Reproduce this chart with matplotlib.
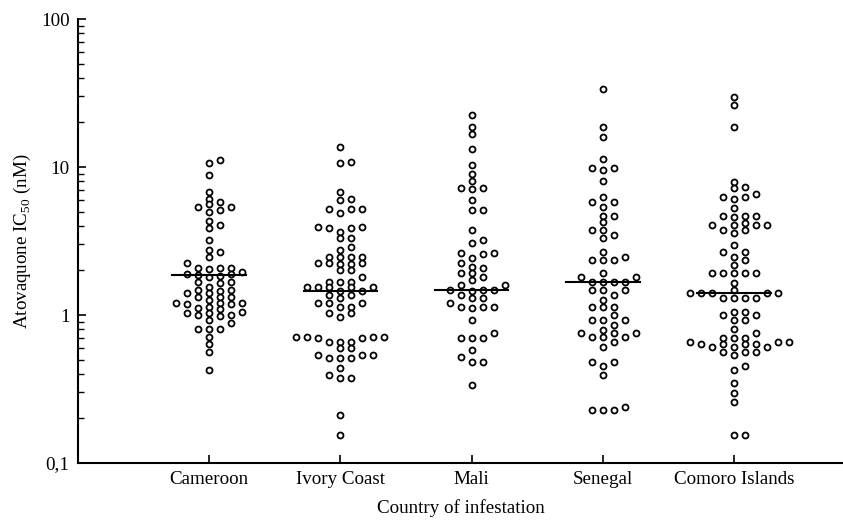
import numpy as np
import matplotlib
matplotlib.use("Agg")
from matplotlib import pyplot as plt

countries = ["Cameroon", "Ivory Coast", "Mali", "Senegal", "Comoro Islands"]

cameroon = [11.1, 10.6, 8.8, 6.8, 6.1, 5.8, 5.6, 5.4, 5.4, 5.1, 5.0, 4.3, 4.05, 3.9, 3.2,
            2.75, 2.67, 2.47, 2.23, 2.08, 2.07, 2.07, 2.05, 1.95, 1.9, 1.88, 1.85, 1.83,
            1.82, 1.66, 1.66, 1.64, 1.55, 1.47, 1.47, 1.46, 1.4, 1.4, 1.33, 1.33, 1.32,
            1.26, 1.2, 1.2, 1.2, 1.19, 1.19, 1.14, 1.11, 1.1, 1.05, 1.03, 1.03, 1.0, 1.0,
            0.99, 0.925, 0.88, 0.81, 0.81, 0.81, 0.71, 0.64, 0.565, 0.425]
ivory_coast = [13.7, 10.8, 10.6, 6.8, 6.1, 6.0, 5.2, 5.2, 5.2, 4.9, 3.94, 3.94, 3.9, 3.9,
               3.65, 3.3, 3.3, 2.89, 2.75, 2.47, 2.47, 2.47, 2.45, 2.23, 2.23, 2.23, 2.22,
               2.2, 2.01, 2.0, 1.81, 1.68, 1.68, 1.67, 1.55, 1.55, 1.55, 1.54, 1.54, 1.46,
               1.46, 1.36, 1.36, 1.3, 1.2, 1.2, 1.2, 1.14, 1.14, 1.03, 1.03, 0.97, 0.71,
               0.71, 0.71, 0.71, 0.7, 0.7, 0.66, 0.66, 0.66, 0.6, 0.6, 0.537, 0.537, 0.537,
               0.51, 0.51, 0.51, 0.437, 0.394, 0.374, 0.374, 0.211, 0.155]
mali = [22.4, 18.7, 16.8, 13.3, 10.3, 9.0, 8.1, 7.2, 7.2, 7.1, 5.97, 5.1, 5.1, 3.75, 3.2,
        3.05, 2.61, 2.61, 2.6, 2.41, 2.23, 2.12, 2.07, 1.91, 1.91, 1.81, 1.72, 1.59, 1.59,
        1.47, 1.47, 1.47, 1.46, 1.36, 1.3, 1.3, 1.2, 1.14, 1.14, 1.14, 1.11, 0.925, 0.75,
        0.7, 0.7, 0.7, 0.58, 0.52, 0.48, 0.48, 0.337]
senegal = [33.8, 18.7, 16.0, 11.4, 9.8, 9.8, 9.5, 8.1, 6.3, 5.8, 5.8, 5.4, 4.7, 4.7, 4.26,
           3.75, 3.75, 3.47, 3.3, 2.67, 2.47, 2.35, 2.35, 2.35, 1.91, 1.81, 1.81, 1.68,
           1.68, 1.68, 1.68, 1.47, 1.47, 1.47, 1.36, 1.26, 1.14, 1.14, 1.14, 1.0, 0.925,
           0.925, 0.925, 0.856, 0.79, 0.75, 0.75, 0.75, 0.71, 0.71, 0.71, 0.66, 0.61,
           0.48, 0.48, 0.45, 0.394, 0.24, 0.228, 0.228, 0.228]
comoro = [29.7, 26.1, 18.7, 7.9, 7.3, 7.2, 6.6, 6.3, 6.3, 6.1, 5.25, 4.7, 4.7, 4.7, 4.6,
          4.16, 4.05, 4.05, 4.05, 4.05, 3.75, 3.75, 3.56, 2.97, 2.67, 2.67, 2.47, 2.35,
          2.17, 1.91, 1.91, 1.91, 1.91, 1.91, 1.64, 1.47, 1.4, 1.4, 1.4, 1.4, 1.4, 1.3,
          1.3, 1.3, 1.3, 1.05, 1.05, 1.0, 1.0, 0.925, 0.925, 0.81, 0.75, 0.7, 0.7, 0.7,
          0.66, 0.66, 0.66, 0.64, 0.64, 0.64, 0.64, 0.61, 0.61, 0.61, 0.565, 0.565,
          0.565, 0.537, 0.45, 0.425, 0.345, 0.296, 0.26, 0.155, 0.155]

medians = [1.86, 1.46, 1.47, 1.68, 1.4]

groups = [cameroon, ivory_coast, mali, senegal, comoro]

# pixel scales of the axes (used only to spread overlapping points sideways)
PX_PER_X = 131.3
PX_PER_DECADE = 148.2


def swarm_offsets(values, step=11.0, min_dy=5.5):
    ys = np.log10(values) * PX_PER_DECADE
    order = np.argsort(ys)
    placed = []
    offsets = np.zeros(len(values))
    for i in order:
        y = ys[i]
        k = 0
        while True:
            cands = [0.0] if k == 0 else [k * step, -k * step]
            ok = None
            for c in cands:
                if all(abs(c - px) >= step - 1 or abs(y - py) >= min_dy for px, py in placed):
                    ok = c
                    break
            if ok is not None:
                break
            k += 1
        placed.append((ok, y))
        offsets[i] = ok / PX_PER_X
    return offsets


plt.rcParams['font.family'] = ['Liberation Serif', 'DejaVu Serif']
plt.rcParams['mathtext.fontset'] = 'custom'
plt.rcParams['mathtext.rm'] = 'Liberation Serif'

fig = plt.figure(figsize=(8.43, 5.2), dpi=100)
ax = fig.add_axes([78 / 843, 57 / 520, 1 - 78 / 843, 444 / 520])

for i, vals in enumerate(groups):
    xpos = i + 1
    offs = swarm_offsets(vals)
    ax.plot(xpos + offs, vals, linestyle='none', marker='o', markersize=4.3,
            markerfacecolor='white', markeredgecolor='black', markeredgewidth=1.3)
    ax.plot([xpos - 0.28, xpos + 0.28], [medians[i], medians[i]], color='black', lw=1.5)

ax.set_yscale('log')
ax.set_ylim(0.1, 100)
ax.set_xlim(0, 5.83)
ax.set_yticks([0.1, 1, 10, 100])
ax.set_yticklabels(["0,1", "1", "10", "100"])
ax.set_xticks(range(1, 6))
ax.set_xticklabels(countries)
ax.tick_params(axis='both', direction='in', length=6, width=1.2, labelsize=13.7, pad=6)
ax.tick_params(axis='y', which='minor', direction='in', length=4, width=1.0)
ax.yaxis.set_minor_formatter(matplotlib.ticker.NullFormatter())

for s in ['top', 'right']:
    ax.spines[s].set_visible(False)
for s in ['left', 'bottom']:
    ax.spines[s].set_linewidth(1.5)

ax.set_xlabel('Country of infestation', fontsize=13.7, labelpad=8)
ax.set_ylabel('Atovaquone IC$_{50}$ (nM)', fontsize=13.7, labelpad=6)

fig.savefig('out.png', dpi=100)
